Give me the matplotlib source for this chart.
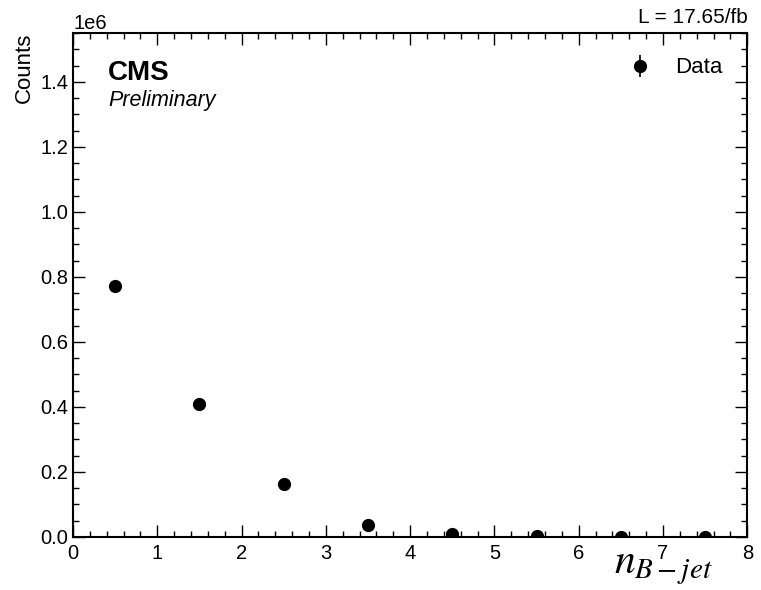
import matplotlib
matplotlib.use("Agg")
import matplotlib.pyplot as plt
from matplotlib.ticker import MultipleLocator
import numpy as np

# Daten (Anzahl B-Jets pro Ereignis)
bin_centers = [0.5, 1.5, 2.5, 3.5, 4.5, 5.5, 6.5, 7.5]
counts = [772000, 408000, 162000, 36000, 8000, 2000, 600, 200]
lumi_text = "L = 17.65/fb"

plt.rcParams['font.family'] = ['Liberation Sans', 'DejaVu Sans']
plt.rcParams['mathtext.fontset'] = 'stix'

fig = plt.figure(figsize=(7.61, 5.90), dpi=100)
ax = fig.add_axes([0.096, 0.09, 0.886, 0.854])

yerr = np.sqrt(counts)
ax.errorbar(bin_centers, counts, yerr=yerr, fmt='o', color='black',
            markersize=8.5, elinewidth=1.2, label='Data')

ax.set_xlim(0, 8)
ax.set_ylim(0, 1.55e6)

ax.xaxis.set_major_locator(MultipleLocator(1))
ax.xaxis.set_minor_locator(MultipleLocator(0.2))
ax.yaxis.set_major_locator(MultipleLocator(0.2e6))
ax.yaxis.set_minor_locator(MultipleLocator(0.05e6))
ax.tick_params(which='both', direction='in', top=True, right=True, labelsize=14.5)
ax.tick_params(which='major', length=8.5, width=1)
ax.tick_params(which='minor', length=4.5, width=1)
ax.tick_params(axis='x', pad=5)
for s in ax.spines.values():
    s.set_linewidth(1.5)
ax.yaxis.get_offset_text().set_fontsize(14.5)

ax.set_ylabel("Counts", fontsize=16, loc='top')
ax.set_xlabel(r"$n_{B-jet}$", fontsize=30, ha='right', va='baseline')
ax.xaxis.set_label_coords(0.948, -0.072)

ax.text(0.052, 0.907, "CMS", transform=ax.transAxes, fontsize=20,
        fontweight='bold', va='baseline')
ax.text(0.052, 0.856, "Preliminary", transform=ax.transAxes, fontsize=15.5,
        style='italic', va='baseline')
ax.text(1.0, 1.012, lumi_text, transform=ax.transAxes, fontsize=15,
        ha='right', va='bottom')

ax.legend(loc='upper right', frameon=False, fontsize=16, borderaxespad=0.7,
          handletextpad=0.6)

fig.savefig("out.png", dpi=100)
